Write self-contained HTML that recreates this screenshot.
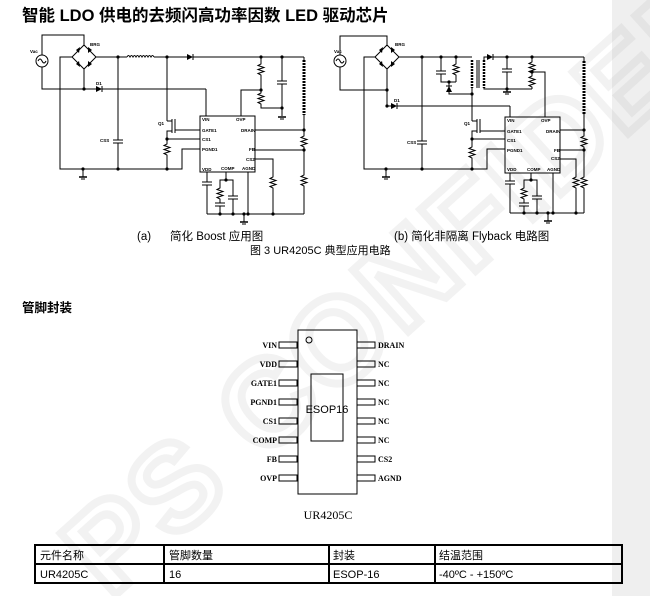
<!DOCTYPE html>
<html><head><meta charset="utf-8"><style>
html,body{margin:0;padding:0;background:#fff;}
body{width:650px;height:596px;position:relative;overflow:hidden;font-family:"Liberation Sans","Noto Sans CJK SC",sans-serif;}
.strip{position:absolute;left:612px;top:0;width:38px;height:596px;background:#efefef;}
svg{position:absolute;left:0;top:0;}
</style></head><body>
<div class="strip"></div>
<svg width="650" height="596" viewBox="0 0 650 596" xmlns="http://www.w3.org/2000/svg">
<defs>
<g id="res"><polyline points="0,0 0,2 -3,3.5 3,5.5 -3,7.5 3,9.5 -3,11.5 0,13 0,15" fill="none" stroke="#000" stroke-width="1"/></g>
<g id="capv"><line x1="-5" y1="0" x2="5" y2="0" stroke="#000"/><line x1="-5" y1="3" x2="5" y2="3" stroke="#000"/></g>
<g id="gnd"><line x1="-4" y1="0" x2="4" y2="0" stroke="#000" stroke-width="1.5"/><line x1="-2" y1="2" x2="2" y2="2" stroke="#000"/></g>
<g id="dot"><circle r="1.6" fill="#000"/></g>
</defs>
<!-- watermark -->
<g opacity="0.12" transform="translate(110,600) rotate(-42)">
<text x="0" y="0" font-family="Liberation Sans" font-size="120" font-weight="bold" fill="none" stroke="#999" stroke-width="8" letter-spacing="4">PS CONFIDENTIAL</text>
</g>

<text x="22" y="21" font-size="16.5" font-weight="bold" fill="#000">智能 LDO 供电的去频闪高功率因数 LED 驱动芯片</text>

<!-- LEFT CIRCUIT -->
<g stroke="#000" stroke-width="1" fill="none">
<circle cx="42" cy="61" r="6"/>
<path d="M38,61 q2,-4 4,0 q2,4 4,0"/>
<polyline points="42,55 42,35 84,35 84,46"/>
<polyline points="42,67 42,89 96,89"/>
<polygon points="84,45 96,57 84,69 72,57"/>
<polyline points="84,69 84,89"/>
<polyline points="72,57 60,57 60,169 182,169 182,149 200,149"/>
<line x1="96" y1="57" x2="127" y2="57"/>
<path d="M127,57 q1.5,-3 3,0 q1.5,-3 3,0 q1.5,-3 3,0 q1.5,-3 3,0 q1.5,-3 3,0 q1.5,-3 3,0 q1.5,-3 3,0 q1.5,-3 3,0 q1.5,-3 3,0"/>
<line x1="154" y1="57" x2="187" y2="57"/>
<line x1="193" y1="57" x2="304" y2="57"/>
<line x1="102" y1="89" x2="206" y2="89"/><line x1="206" y1="89" x2="206" y2="116"/>
<line x1="118" y1="57" x2="118" y2="140"/><line x1="118" y1="143" x2="118" y2="169"/>
<polyline points="167,57 167,121"/>
<line x1="172" y1="119" x2="172" y2="133"/><line x1="175" y1="119" x2="175" y2="133"/>
<polyline points="167,121 172,121"/><polyline points="167,131 172,131 167,131 167,139"/>
<line x1="175" y1="130" x2="200" y2="130"/>
<line x1="167" y1="139" x2="200" y2="139"/>
<line x1="167" y1="139" x2="167" y2="142"/><line x1="167" y1="157" x2="167" y2="169"/>
<rect x="200" y="116" width="55" height="56"/>
<polyline points="241,116 241,90 261,90"/>
<line x1="261" y1="57" x2="261" y2="62"/><line x1="261" y1="77" x2="261" y2="91"/><polyline points="261,106 261,108 282,108"/>
<line x1="282" y1="57" x2="282" y2="81"/><line x1="282" y1="84" x2="282" y2="116"/>
<line x1="304" y1="57" x2="304" y2="60"/>
<path d="M304,60 v55" stroke-dasharray="2,1" stroke-width="3"/>
<line x1="304" y1="115" x2="304" y2="134"/><line x1="304" y1="149" x2="304" y2="173"/><line x1="304" y1="188" x2="304" y2="214"/>
<line x1="255" y1="130" x2="304" y2="130"/><line x1="255" y1="150" x2="304" y2="150"/>
<polyline points="255,159 273,159 273,175"/><line x1="273" y1="190" x2="273" y2="214"/>
<line x1="207" y1="172" x2="207" y2="182"/><line x1="207" y1="185" x2="207" y2="214"/>
<polyline points="226,172 226,180 233,180 233,196"/><line x1="233" y1="199" x2="233" y2="214"/>
<polyline points="226,180 220,180 220,186"/><line x1="220" y1="201" x2="220" y2="203"/><line x1="220" y1="206" x2="220" y2="214"/>
<line x1="248" y1="172" x2="248" y2="214"/>
<line x1="207" y1="214" x2="304" y2="214"/>
<line x1="244" y1="214" x2="244" y2="222"/>
<line x1="83" y1="169" x2="83" y2="177"/>
</g>
<polygon points="187,54 187,60 193,57" fill="#000"/><line x1="193" y1="54" x2="193" y2="60" stroke="#000"/>
<polygon points="96,86 96,92 102,89" fill="#000"/><line x1="102" y1="86" x2="102" y2="92" stroke="#000"/>
<g fill="#000"><polygon points="76,50 80,47 79,53"/><polygon points="88,47 92,50 88,53"/><polygon points="76,64 80,67 79,61"/><polygon points="88,67 92,64 88,61"/></g>
<use href="#res" x="261" y="62"/><use href="#res" x="261" y="91"/><use href="#res" x="167" y="142"/>
<use href="#res" x="304" y="134"/><use href="#res" x="304" y="173"/><use href="#res" x="273" y="175"/><use href="#res" x="220" y="186"/>
<g transform="translate(118,140)"><use href="#capv"/></g><use href="#capv" x="282" y="81"/><use href="#capv" x="207" y="182"/><use href="#capv" x="233" y="196"/><use href="#capv" x="220" y="203"/>
<use href="#gnd" x="83" y="177"/><use href="#gnd" x="282" y="117"/><use href="#gnd" x="244" y="222"/>
<g><use href="#dot" x="118" y="57"/><use href="#dot" x="167" y="57"/><use href="#dot" x="261" y="57"/><use href="#dot" x="282" y="57"/><use href="#dot" x="84" y="89"/><use href="#dot" x="261" y="90"/><use href="#dot" x="282" y="108"/><use href="#dot" x="83" y="169"/><use href="#dot" x="118" y="169"/><use href="#dot" x="167" y="169"/><use href="#dot" x="167" y="139"/><use href="#dot" x="304" y="130"/><use href="#dot" x="304" y="150"/><use href="#dot" x="226" y="180"/><use href="#dot" x="220" y="214"/><use href="#dot" x="233" y="214"/><use href="#dot" x="244" y="214"/><use href="#dot" x="248" y="214"/><use href="#dot" x="273" y="214"/></g>
<g font-size="4.5" font-weight="bold" fill="#000">
<text x="30" y="53">Vac</text><text x="90" y="46">BRG</text><text x="96" y="85">D1</text><text x="100" y="142">CSS</text><text x="158" y="125">Q1</text>
<text x="202" y="121">VIN</text><text x="236" y="121">OVP</text><text x="202" y="132">GATE1</text><text x="241" y="132">DRAIN</text><text x="202" y="141">CS1</text><text x="202" y="151">PGND1</text><text x="249" y="151">FB</text><text x="246" y="161">CS2</text><text x="202" y="171">VDD</text><text x="221" y="170">COMP</text><text x="242" y="170">AGND</text>
</g>

<!-- RIGHT CIRCUIT -->
<g stroke="#000" stroke-width="1" fill="none">
<circle cx="340" cy="61" r="6"/>
<path d="M336,61 q2,-4 4,0 q2,4 4,0"/>
<polyline points="340,55 340,36 387,36 387,46"/>
<polyline points="340,67 340,90 387,90"/>
<polygon points="387,45 399,57 387,69 375,57"/>
<polyline points="387,69 387,107"/>
<polyline points="375,57 364,57 364,169 487,169 487,149 505,149"/>
<line x1="399" y1="57" x2="472" y2="57"/>
<line x1="387" y1="106" x2="391" y2="106"/><line x1="397" y1="106" x2="510" y2="106"/><line x1="510" y1="106" x2="510" y2="117"/>
<line x1="422" y1="57" x2="422" y2="141"/><line x1="422" y1="144" x2="422" y2="169"/>
<polyline points="441,57 441,71"/><polyline points="441,74 441,82 456,82"/>
<line x1="456" y1="57" x2="456" y2="62"/><line x1="456" y1="77" x2="456" y2="82"/>
<polyline points="449,82 449,94 472,94 472,88"/>
<path d="M472,60 v28" stroke-dasharray="2,1" stroke-width="2.5"/>
<line x1="477" y1="60" x2="477" y2="88"/><line x1="479" y1="60" x2="479" y2="88"/>
<path d="M484,60 v28" stroke-dasharray="2,1" stroke-width="2.5"/>
<polyline points="484,60 484,57 487,57"/><line x1="493" y1="57" x2="584" y2="57"/>
<polyline points="484,88 484,89 532,89"/>
<line x1="507" y1="57" x2="507" y2="69"/><line x1="507" y1="72" x2="507" y2="89"/>
<line x1="532" y1="57" x2="532" y2="60"/>
<polyline points="545,117 545,72 532,72"/>
<line x1="472" y1="94" x2="472" y2="121"/>
<line x1="477" y1="119" x2="477" y2="133"/><line x1="480" y1="119" x2="480" y2="133"/>
<polyline points="472,121 477,121"/><polyline points="477,131 472,131 472,139"/>
<line x1="480" y1="131" x2="505" y2="131"/>
<line x1="472" y1="139" x2="505" y2="139"/>
<line x1="472" y1="139" x2="472" y2="145"/><line x1="472" y1="160" x2="472" y2="169"/>
<rect x="505" y="117" width="55" height="56"/>
<line x1="584" y1="57" x2="584" y2="61"/>
<path d="M584,61 v53" stroke-dasharray="2,1" stroke-width="3"/>
<line x1="584" y1="114" x2="584" y2="134"/><line x1="584" y1="149" x2="584" y2="175"/><line x1="584" y1="190" x2="584" y2="213"/>
<line x1="560" y1="130" x2="584" y2="130"/><line x1="560" y1="150" x2="584" y2="150"/>
<polyline points="560,159 576,159 576,175"/><line x1="576" y1="190" x2="576" y2="213"/>
<line x1="510" y1="173" x2="510" y2="181"/><line x1="510" y1="184" x2="510" y2="213"/>
<polyline points="531,173 531,180 537,180 537,196"/><line x1="537" y1="199" x2="537" y2="213"/>
<polyline points="531,180 524,180 524,186"/><line x1="524" y1="201" x2="524" y2="203"/><line x1="524" y1="206" x2="524" y2="213"/>
<line x1="553" y1="173" x2="553" y2="213"/>
<line x1="510" y1="213" x2="584" y2="213"/>
<line x1="548" y1="213" x2="548" y2="221"/>
<line x1="386" y1="169" x2="386" y2="177"/>
<line x1="507" y1="89" x2="507" y2="92"/>
</g>
<polygon points="487,54 487,60 493,57" fill="#000"/><line x1="493" y1="54" x2="493" y2="60" stroke="#000"/>
<polygon points="391,103 391,109 397,106" fill="#000"/><line x1="397" y1="103" x2="397" y2="109" stroke="#000"/>
<polygon points="446,92 452,92 449,86" fill="#000"/><line x1="446" y1="86" x2="452" y2="86" stroke="#000"/>
<g fill="#000"><polygon points="379,50 383,47 382,53"/><polygon points="391,47 395,50 391,53"/><polygon points="379,64 383,67 382,61"/><polygon points="391,67 395,64 391,61"/></g>
<use href="#res" x="456" y="62"/><use href="#res" x="532" y="60"/><use href="#res" x="532" y="74"/><use href="#res" x="472" y="145"/>
<use href="#res" x="584" y="134"/><use href="#res" x="584" y="175"/><use href="#res" x="576" y="175"/><use href="#res" x="524" y="186"/>
<use href="#capv" x="422" y="141"/><use href="#capv" x="441" y="71"/><use href="#capv" x="507" y="69"/><use href="#capv" x="510" y="181"/><use href="#capv" x="537" y="196"/><use href="#capv" x="524" y="203"/>
<use href="#gnd" x="386" y="177"/><use href="#gnd" x="507" y="92"/><use href="#gnd" x="548" y="221"/>
<g><use href="#dot" x="422" y="57"/><use href="#dot" x="441" y="57"/><use href="#dot" x="456" y="57"/><use href="#dot" x="449" y="82"/><use href="#dot" x="472" y="94"/><use href="#dot" x="507" y="57"/><use href="#dot" x="532" y="57"/><use href="#dot" x="532" y="72"/><use href="#dot" x="507" y="89"/><use href="#dot" x="387" y="90"/><use href="#dot" x="387" y="106"/><use href="#dot" x="386" y="169"/><use href="#dot" x="422" y="169"/><use href="#dot" x="472" y="169"/><use href="#dot" x="472" y="139"/><use href="#dot" x="584" y="130"/><use href="#dot" x="584" y="150"/><use href="#dot" x="531" y="180"/><use href="#dot" x="524" y="213"/><use href="#dot" x="537" y="213"/><use href="#dot" x="548" y="213"/><use href="#dot" x="553" y="213"/><use href="#dot" x="576" y="213"/></g>
<g font-size="4.5" font-weight="bold" fill="#000">
<text x="334" y="53">Vac</text><text x="395" y="46">BRG</text><text x="394" y="102">D1</text><text x="407" y="144">CSS</text><text x="464" y="125">Q1</text>
<text x="507" y="122">VIN</text><text x="541" y="122">OVP</text><text x="507" y="133">GATE1</text><text x="546" y="133">DRAIN</text><text x="507" y="142">CS1</text><text x="507" y="152">PGND1</text><text x="554" y="152">FB</text><text x="551" y="160">CS2</text><text x="507" y="171">VDD</text><text x="527" y="171">COMP</text><text x="547" y="171">AGND</text>
</g>

<g font-size="11.5" fill="#000">
<text x="137" y="240">(a)</text><text x="170" y="240">简化 Boost 应用图</text>
<text x="394" y="240">(b) 简化非隔离 Flyback 电路图</text>
</g>
<text x="250" y="254" font-size="11" fill="#000">图  3 UR4205C  典型应用电路</text>

<text x="22" y="312" font-size="12.5" font-weight="bold" fill="#000">管脚封装</text>

<!-- package -->
<g stroke="#000" stroke-width="1" fill="none">
<rect x="298" y="330" width="59" height="164"/>
<circle cx="309" cy="340" r="3"/>
<rect x="311" y="374" width="32" height="67"/>
<rect x="279" y="342" width="18" height="6"/><rect x="279" y="361" width="18" height="6"/><rect x="279" y="380" width="18" height="6"/><rect x="279" y="399" width="18" height="6"/><rect x="279" y="418" width="18" height="6"/><rect x="279" y="437" width="18" height="6"/><rect x="279" y="456" width="18" height="6"/><rect x="279" y="475" width="18" height="6"/>
<rect x="357" y="342" width="18" height="6"/><rect x="357" y="361" width="18" height="6"/><rect x="357" y="380" width="18" height="6"/><rect x="357" y="399" width="18" height="6"/><rect x="357" y="418" width="18" height="6"/><rect x="357" y="437" width="18" height="6"/><rect x="357" y="456" width="18" height="6"/><rect x="357" y="475" width="18" height="6"/>
</g>
<g font-family="Liberation Serif, serif" font-size="8" font-weight="bold" fill="#000">
<g text-anchor="end"><text x="277" y="348">VIN</text><text x="277" y="367">VDD</text><text x="277" y="386">GATE1</text><text x="277" y="405">PGND1</text><text x="277" y="424">CS1</text><text x="277" y="443">COMP</text><text x="277" y="462">FB</text><text x="277" y="481">OVP</text></g>
<text x="378" y="348">DRAIN</text><text x="378" y="367">NC</text><text x="378" y="386">NC</text><text x="378" y="405">NC</text><text x="378" y="424">NC</text><text x="378" y="443">NC</text><text x="378" y="462">CS2</text><text x="378" y="481">AGND</text>
</g>
<text x="327" y="413" font-size="11" text-anchor="middle" fill="#000">ESOP16</text>
<text x="328" y="519" font-family="Liberation Serif, serif" font-size="12" text-anchor="middle" fill="#000">UR4205C</text>

<!-- table -->
<g stroke="#000" stroke-width="2" fill="none">
<rect x="35" y="545" width="587" height="38"/>
<line x1="35" y1="564" x2="622" y2="564"/>
<line x1="164" y1="545" x2="164" y2="583"/><line x1="329" y1="545" x2="329" y2="583"/><line x1="435" y1="545" x2="435" y2="583"/>
</g>
<g font-size="11" fill="#000">
<text x="40" y="559">元件名称</text><text x="169" y="559">管脚数量</text><text x="333" y="559">封装</text><text x="439" y="559">结温范围</text>
<text x="40" y="578">UR4205C</text><text x="169" y="578">16</text><text x="333" y="578">ESOP-16</text><text x="439" y="578">-40ºC - +150ºC</text>
</g>
</svg>
</body></html>
